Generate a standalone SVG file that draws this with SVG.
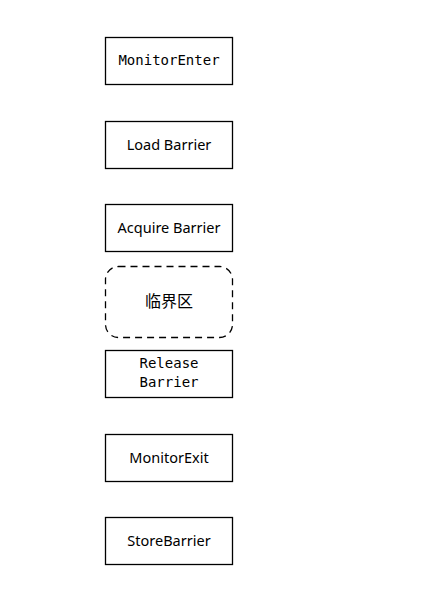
<svg xmlns="http://www.w3.org/2000/svg" width="429" height="595" viewBox="0 0 429 595">
<style>
.box{fill:#fff;stroke:#000;stroke-width:1.3}
.dash{fill:#fff;stroke:#000;stroke-width:1.3;stroke-dasharray:7 5}
.t{font-family:"Noto Sans","Liberation Sans","Noto Sans CJK SC",sans-serif;font-size:14.5px;fill:#000;text-anchor:middle;dominant-baseline:central}
.m{font-family:"DejaVu Sans Mono","Liberation Mono",monospace;font-size:14px;fill:#000;text-anchor:middle;dominant-baseline:central}
.c{font-family:"Noto Sans CJK SC",sans-serif;font-size:16px;fill:#000;text-anchor:middle;dominant-baseline:central}
</style>
<rect width="429" height="595" fill="#fff"/>
<g id="connectors"/>
<g id="monitorEnter"><rect class="box" x="105.5" y="37.5" width="127" height="47"/><text class="m" x="169" y="60">MonitorEnter</text></g>
<g id="loadBarrier"><rect class="box" x="105.5" y="121.5" width="127" height="47"/><text class="t" x="169" y="144">Load Barrier</text></g>
<g id="acquireBarrier"><rect class="box" x="105.5" y="204.5" width="127" height="47"/><text class="t" x="169" y="227">Acquire Barrier</text></g>
<g id="critical"><rect class="dash" x="105.5" y="266.5" width="127" height="71" rx="13" ry="13"/><text class="c" x="169" y="300">临界区</text></g>
<g id="releaseBarrier"><rect class="box" x="105.5" y="350.5" width="127" height="47"/><text class="m" x="169" y="363">Release</text><text class="m" x="169" y="382">Barrier</text></g>
<g id="monitorExit"><rect class="box" x="105.5" y="434.5" width="127" height="47"/><text class="t" x="169" y="457">MonitorExit</text></g>
<g id="storeBarrier"><rect class="box" x="105.5" y="517.5" width="127" height="47"/><text class="t" x="169" y="540">StoreBarrier</text></g>
</svg>
